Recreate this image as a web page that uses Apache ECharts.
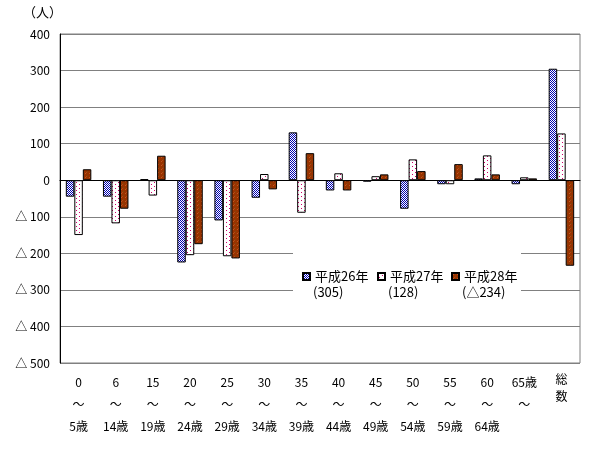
<!DOCTYPE html>
<html>
<head>
<meta charset="utf-8">
<script src="https://cdn.jsdelivr.net/npm/echarts@6/dist/echarts.min.js"></script>
<style>html,body{margin:0;padding:0;background:#fff;}#c{width:600px;height:450px;}</style>
</head>
<body>
<div id="c"></div>
<script>
// ---- data ----
var categories = ['0\n～\n5歳','6\n～\n14歳','15\n～\n19歳','20\n～\n24歳','25\n～\n29歳','30\n～\n34歳','35\n～\n39歳','40\n～\n44歳','45\n～\n49歳','50\n～\n54歳','55\n～\n59歳','60\n～\n64歳','65歳\n～','総\n数'];
var seriesNames = ['平成26年','平成27年','平成28年'];
var h26 = [-45, -45, 3, -225, -110, -48, 131, -28, -4, -78, -11, 5, -11, 305];
var h27 = [-150, -118, -42, -205, -208, 17, -89, 19, 11, 57, -11, 68, 8, 128];
var h28 = [30, -78, 67, -175, -214, -25, 74, -28, 16, 25, 44, 16, 5, -234];
var yTicks = {min: -500, max: 400, step: 100};

function fmtNum(v){ return v < 0 ? '△' + (-v) : String(v); }

// ---- patterns ----
function makePattern(w, h, bg, dots){
  var c = document.createElement('canvas');
  c.width = w; c.height = h;
  var g = c.getContext('2d');
  g.fillStyle = bg; g.fillRect(0,0,w,h);
  dots.forEach(function(d){ g.fillStyle = d[2]; g.fillRect(d[0], d[1], 1, 1); });
  return {image: c, repeat: 'repeat'};
}
var blueFill = makePattern(2, 2, '#ffffff', [[0,0,'#0000b0'],[1,1,'#0000b0']]);
var pinkFill = makePattern(6, 4, '#ffffff', [[1,0,'#d0006a'],[4,2,'#d0006a']]);
var brownFill = makePattern(4, 4, '#993300', [[1,1,'#c05a20'],[3,3,'#7a4a10'],[2,0,'#b04a18']]);
var fills = [blueFill, pinkFill, brownFill];
var dataSets = [h26, h27, h28];
var totals = dataSets.map(function(d){ return d[d.length-1]; });

var font = '"Noto Sans CJK JP", "Noto Sans", sans-serif';

// legend layout (inside the plot, lower middle)
var legendIconX = [302, 377, 451];
var legendRowY = 274;

var legends = seriesNames.map(function(n, i){
  return {
    left: legendIconX[i], top: legendRowY - 4,
    padding: 0, itemWidth: 7, itemHeight: 7, itemGap: 0,
    icon: 'rect', data: [n], selectedMode: false,
    textStyle: {fontFamily: font, fontSize: 13, color: '#000'},
    z: 12
  };
});

var graphics = [{
  type: 'rect', z: 5, silent: true,
  shape: {x: 293, y: 246, width: 228, height: 60},
  style: {fill: '#ffffff'}
}].concat(seriesNames.map(function(n, i){
  return {
    type: 'text', z: 12, silent: true,
    x: legendIconX[i] + 11, y: legendRowY + 18,
    style: {text: '(' + fmtNum(totals[i]) + ')', fontFamily: font, fontSize: 13, fill: '#000', verticalAlign: 'middle'}
  };
}));

var chart = echarts.init(document.getElementById('c'), null, {renderer: 'canvas'});
chart.setOption({
  animation: false,
  backgroundColor: '#fff',
  textStyle: {fontFamily: font, color: '#000'},
  grid: {left: 60, right: 20, top: 34, bottom: 87, show: true, borderColor: '#808080', borderWidth: 1, backgroundColor: 'transparent'},
  legend: legends,
  graphic: graphics,
  xAxis: {
    type: 'category',
    data: categories,
    axisLine: {onZero: true, lineStyle: {color: '#000', width: 1}},
    axisTick: {show: false},
    axisLabel: {
      interval: 0, margin: 8, fontSize: 12, color: '#000', fontFamily: font, lineHeight: 22, verticalAlign: 'top',
      formatter: function(v){
        if (v.indexOf('総') === 0) { return v.split('\n').map(function(s){ return '{s|' + s + '}'; }).join('\n'); }
        return v;
      },
      rich: {s: {fontSize: 12, lineHeight: 17, fontFamily: font, color: '#000'}}
    },
    splitLine: {show: false}
  },
  yAxis: {
    type: 'value',
    min: yTicks.min, max: yTicks.max, interval: yTicks.step,
    name: '（人）',
    nameLocation: 'end',
    nameGap: 22,
    nameTextStyle: {fontFamily: font, fontSize: 13, color: '#000', align: 'right', verticalAlign: 'middle', padding: [0, -2, 0, 0]},
    axisLine: {show: true, lineStyle: {color: '#000', width: 1}},
    axisTick: {show: false},
    axisLabel: {margin: 10, fontSize: 12, color: '#000', fontFamily: font,
      formatter: function(v){ return v < 0 ? '△ ' + (-v) : String(v); }},
    splitLine: {show: true, lineStyle: {color: '#808080', width: 1}}
  },
  series: seriesNames.map(function(n, i){
    return {
      name: n, type: 'bar', data: dataSets[i],
      barWidth: 8.5, barGap: '0%',
      itemStyle: {color: fills[i], borderColor: '#000', borderWidth: 1},
      emphasis: {disabled: true}
    };
  })
});
</script>
</body>
</html>
